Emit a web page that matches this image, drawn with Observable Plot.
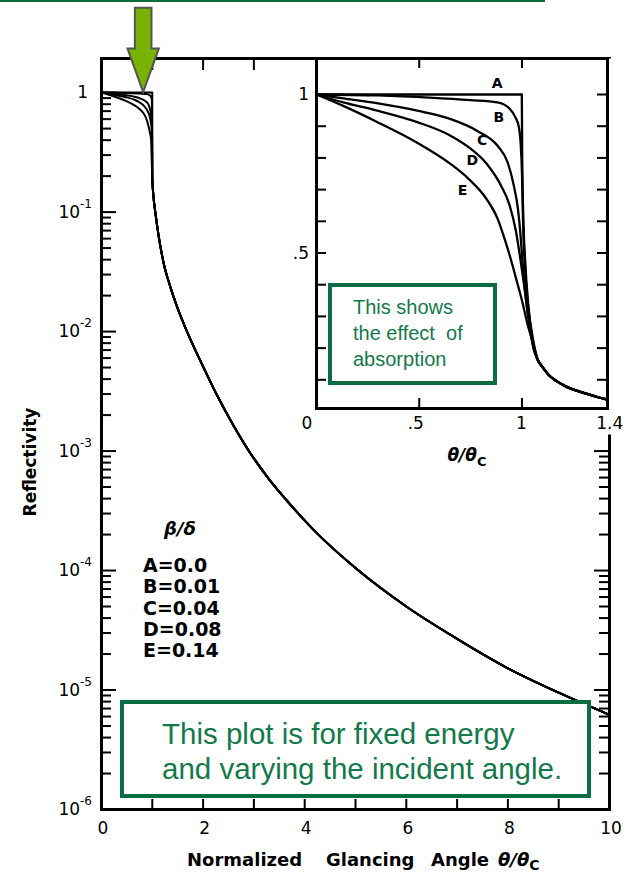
<!DOCTYPE html>
<html><head><meta charset="utf-8">
<script src="https://cdn.jsdelivr.net/npm/d3@7"></script>
<script src="https://cdn.jsdelivr.net/npm/@observablehq/plot@0.6"></script>
<style>
html,body{margin:0;padding:0;background:#fff;overflow:hidden;}
#wrap{position:relative;width:626px;height:878px;overflow:hidden;background:#fff;}
#wrap svg{position:absolute;}
.gbox{position:absolute;background:#fff;border:4px solid #0c6d44;color:#13794b;font-family:"Liberation Sans",Arial,sans-serif;box-sizing:border-box;white-space:nowrap;}
.topline{position:absolute;left:0;top:0;width:545px;height:2px;background:#0b6b3f;}
</style></head><body><div id="wrap"><div class="topline"></div></div>
<script>
// ---------- data ----------
const curveNames = ["A","B","C","D","E"];
const betaOverDelta = ["0.0","0.01","0.04","0.08","0.14"];
// [theta/theta_c, reflectivity] (region up to ~1.06)
const curveA = [[0,1],[0.5,1],[0.999,1],[1.001,0.8],[1.006,0.62],[1.015,0.48],[1.03,0.34],[1.056,0.22]];
const curveB = [[0,1],[0.3,0.997],[0.55,0.99],[0.75,0.982],[0.88,0.975],[0.94,0.955],[0.968,0.928],[0.985,0.897],[0.993,0.85],[1.0,0.75],[1.005,0.6],[1.015,0.45],[1.03,0.33],[1.056,0.21]];
const curveC = [[0,1],[0.13,0.988],[0.3,0.972],[0.49,0.949],[0.65,0.923],[0.78,0.886],[0.88,0.839],[0.93,0.786],[0.96,0.713],[0.98,0.64],[0.993,0.555],[1.005,0.45],[1.02,0.35],[1.035,0.28],[1.056,0.2]];
const curveD = [[0,1],[0.13,0.975],[0.29,0.95],[0.49,0.913],[0.65,0.871],[0.74,0.834],[0.83,0.78],[0.9,0.71],[0.94,0.65],[0.97,0.57],[0.99,0.49],[1.01,0.4],[1.03,0.3],[1.056,0.2]];
const curveE = [[0,1],[0.13,0.964],[0.29,0.915],[0.49,0.848],[0.65,0.782],[0.74,0.734],[0.83,0.668],[0.88,0.61],[0.92,0.535],[0.95,0.47],[0.975,0.41],[1.0,0.35],[1.025,0.28],[1.056,0.21]];
const heads = [curveA, curveB, curveC, curveD, curveE];
// common tail in the inset (linear scale)
const insetTail = [[1.075,0.165],[1.1,0.14],[1.13,0.115],[1.17,0.095],[1.22,0.077],[1.27,0.065],[1.32,0.055],[1.37,0.045],[1.42,0.037]];
// common tail in the main plot (log scale)
const mainTail = [[1.0,0.19],[1.02,0.14],[1.063,0.097],[1.12,0.065],[1.226,0.037],[1.35,0.024],[1.49,0.016],[1.65,0.0108],[1.82,0.0074],[2.05,0.0046],[2.28,0.0029],[2.6,0.00163],[2.93,0.00096],[3.3,0.00058],[3.66,0.00038],[4.18,0.000218],[5,0.000105],[6,0.00005],[7,0.0000268],[8,0.0000152],[9,0.0000095],[10,0.0000062]];

// ticks and labels
const yTickExp = [0,-1,-2,-3,-4,-5,-6];
const yDecades = [1,1e-1,1e-2,1e-3,1e-4,1e-5,1e-6];
const yMinorMult = [2,3,4,5,6,7,8,9];
const xTickLabels = [0,2,4,6,8,10];
const xTicksBottom = [1,2,3,4,5,6,7,8,9];
const xTicksTop = [1,2,3];
const insetYTicks = [0.1,0.2,0.3,0.4,0.5,0.6,0.7,0.8,0.9,1.0];
const insetXTicks = [0.5,1];
const insetYLabelVals = [1,0.5], insetYLabelText = ["1",".5"];
const insetXLabelVals = [0,0.5,1,1.4], insetXLabelText = ["0",".5","1","1.4"];
const insetLabelX = [0.879,0.887,0.806,0.758,0.710];
const insetLabelY = [1.034,0.929,0.855,0.792,0.697];
const arrowX = 0.83, arrowY = 1;

// ---------- helpers ----------
const NS = "http://www.w3.org/2000/svg";
function txt(x, y, parts, o = {}) {
  const t = document.createElementNS(NS, "text");
  t.setAttribute("x", x); t.setAttribute("y", y);
  t.setAttribute("text-anchor", o.anchor || "start");
  t.setAttribute("dominant-baseline", "central");
  t.setAttribute("font-size", o.size || 16);
  t.setAttribute("font-weight", o.weight || "normal");
  if (o.italic) t.setAttribute("font-style", "italic");
  t.setAttribute("font-family", o.family || "DejaVu Sans, sans-serif");
  t.setAttribute("fill", o.fill || "#000");
  if (o.rotate) t.setAttribute("transform", `rotate(${o.rotate},${x},${y})`);
  for (const p of parts) {
    const [str, po] = typeof p === "string" ? [p, {}] : p;
    const s = document.createElementNS(NS, "tspan");
    s.textContent = str;
    if (po.size) s.setAttribute("font-size", po.size);
    if (po.dy) s.setAttribute("dy", po.dy);
    if (po.italic) s.setAttribute("font-style", "italic");
    t.appendChild(s);
  }
  return t;
}
function group(children) {
  const g = document.createElementNS(NS, "g");
  children.forEach(c => g.appendChild(c));
  return g;
}

// ---------- main plot ----------
const W = 626, H = 878, mL = 101, mR = 17, mT = 58, mB = 69;
const pw = W - mL - mR, ph = H - mT - mB;
const yMinor = yDecades.slice(1).flatMap(d => yMinorMult.map(m => d * m));
const mainData = curveNames.flatMap((name, i) =>
  [...heads[i].filter(p => p[0] < 0.9995), ...mainTail].map(([x, r]) => ({name, x, r})));

const main = Plot.plot({
  width: W, height: H, marginLeft: mL, marginRight: mR, marginTop: mT, marginBottom: mB,
  style: {background: "transparent", overflow: "visible", fontFamily: "DejaVu Sans, sans-serif"},
  x: {domain: [0, 10], axis: null},
  y: {type: "log", domain: [1e-6, 1.93], axis: null},
  marks: [
    Plot.ruleY(yDecades, {insetRight: pw - 15, strokeWidth: 2}),
    Plot.ruleY(yMinor, {insetRight: pw - 10, strokeWidth: 2}),
    Plot.ruleY(yDecades, {insetLeft: pw - 15, strokeWidth: 2}),
    Plot.ruleY(yMinor, {insetLeft: pw - 10, strokeWidth: 2}),
    Plot.ruleX(xTicksBottom, {insetTop: ph - 10, strokeWidth: 2}),
    Plot.ruleX(xTicksTop, {insetBottom: ph - 12, strokeWidth: 2}),
    Plot.line(mainData, {x: "x", y: "r", z: "name", stroke: "#000", strokeWidth: 2, curve: "monotone-x"}),
    Plot.frame({stroke: "#000", strokeWidth: 3}),
    (index, s, v, d) => group(yTickExp.map((e, i) => e === 0
      ? txt(d.marginLeft - 13, s.y(yDecades[i]), ["1"], {anchor: "end", size: 17})
      : txt(d.marginLeft - 9, s.y(yDecades[i]), ["10", ["-" + (-e), {size: 12, dy: -8}]], {anchor: "end", size: 17}))),
    (index, s, v, d) => group(xTickLabels.map(t =>
      txt(s.x(t) + 2, d.height - d.marginBottom + 19, [String(t)], {anchor: "middle", size: 17}))),
    (index, s, v, d) => {
      const ty = d.height - 19;
      return group([
        txt(30, d.marginTop + 404, ["Reflectivity"], {anchor: "middle", size: 17, weight: "bold", rotate: -90}),
        txt(187, ty, ["Normalized"], {size: 18, weight: "bold"}),
        txt(326, ty, ["Glancing"], {size: 18, weight: "bold"}),
        txt(431, ty, ["Angle"], {size: 18, weight: "bold"}),
        txt(498, ty, [["θ/θ", {italic: true}], ["C", {size: 14, dy: 6}]], {size: 18, weight: "bold"}),
        txt(d.marginLeft + 79, d.marginTop + 470, ["β/δ"], {anchor: "middle", size: 18, weight: "bold", italic: true}),
        ...curveNames.map((n, i) => txt(d.marginLeft + 42, d.marginTop + 507 + i * 21.3, [n + "=" + betaOverDelta[i]], {size: 19, weight: "bold"}))
      ]);
    },
    (index, s) => {
      const tx = s.x(arrowX), ty = s.y(arrowY);
      const p = document.createElementNS(NS, "path");
      const sw = 8.3, hw = 15.7, hl = 43.7, L = 84.4;
      p.setAttribute("d", `M${tx - sw},${ty - L}H${tx + sw}V${ty - hl}H${tx + hw}L${tx},${ty}L${tx - hw},${ty - hl}H${tx - sw}Z`);
      p.setAttribute("fill", "#77b300");
      p.setAttribute("stroke", "#555");
      p.setAttribute("stroke-width", 2);
      return p;
    }
  ]
});
main.style.left = "0px"; main.style.top = "0px";

// ---------- inset ----------
const iW = 346, iH = 440, imL = 36, imR = 19, imT = 18, imB = 72;
const ipw = iW - imL - imR, iph = iH - imT - imB;
const insetData = curveNames.flatMap((name, i) => {
  const h = heads[i], last = h[h.length - 1][0];
  return [...h, ...insetTail.filter(p => p[0] > last)].map(([x, r]) => ({name, x, r}));
});
const inset = Plot.plot({
  width: iW, height: iH, marginLeft: imL, marginRight: imR, marginTop: imT, marginBottom: imB,
  style: {background: "transparent", overflow: "visible", fontFamily: "DejaVu Sans, sans-serif"},
  x: {domain: [0, 1.416], axis: null},
  y: {domain: [0.0095, 1.1136], axis: null},
  marks: [
    Plot.frame({fill: "#fff", stroke: "none", insetRight: -22, insetBottom: -26}),
    Plot.ruleY(insetYTicks, {insetRight: ipw - 10, strokeWidth: 2}),
    Plot.ruleY(insetYTicks, {insetLeft: ipw - 10, strokeWidth: 2}),
    Plot.ruleX(insetXTicks, {insetBottom: iph - 10, strokeWidth: 2}),
    Plot.ruleX(insetXTicks, {insetTop: iph - 10, strokeWidth: 2}),
    Plot.line(insetData, {x: "x", y: "r", z: "name", stroke: "#000", strokeWidth: 2.3, curve: "monotone-x", clip: true}),
    Plot.frame({stroke: "#000", strokeWidth: 3}),
    Plot.text(curveNames, {x: (d, i) => insetLabelX[i], y: (d, i) => insetLabelY[i], text: d => d, fontSize: 14, fontWeight: "bold", fill: "#000"}),
    (index, s, v, d) => group([
      ...insetYLabelVals.map((val, i) => txt(d.marginLeft - 7, s.y(val), [insetYLabelText[i]], {anchor: "end", size: 17})),
      ...insetXLabelVals.map((val, i) => txt(s.x(val) + [-9, -3, 0, 6][i], d.height - d.marginBottom + 15, [insetXLabelText[i]], {anchor: "middle", size: 17})),
      txt(187, d.height - d.marginBottom + 47, [["θ/θ", {italic: true}], ["C", {size: 13, dy: 6}]], {anchor: "middle", size: 17, weight: "bold"})
    ])
  ]
});
inset.style.left = "280px"; inset.style.top = "40px";

const wrap = document.getElementById("wrap");
wrap.appendChild(main);
wrap.appendChild(inset);

const box1 = document.createElement("div");
box1.className = "gbox";
Object.assign(box1.style, {left: "328px", top: "283px", width: "169px", height: "102px", fontSize: "20px", lineHeight: "26px", padding: "7px 0 0 21px"});
box1.innerHTML = "This shows<br>the effect&nbsp; of<br>absorption";
wrap.appendChild(box1);

const box2 = document.createElement("div");
box2.className = "gbox";
Object.assign(box2.style, {left: "120px", top: "700px", width: "471px", height: "98px", fontSize: "29.5px", lineHeight: "35px", padding: "12px 0 0 38px"});
box2.innerHTML = "This plot is for fixed energy<br>and varying the incident angle.";
wrap.appendChild(box2);
</script></body></html>
